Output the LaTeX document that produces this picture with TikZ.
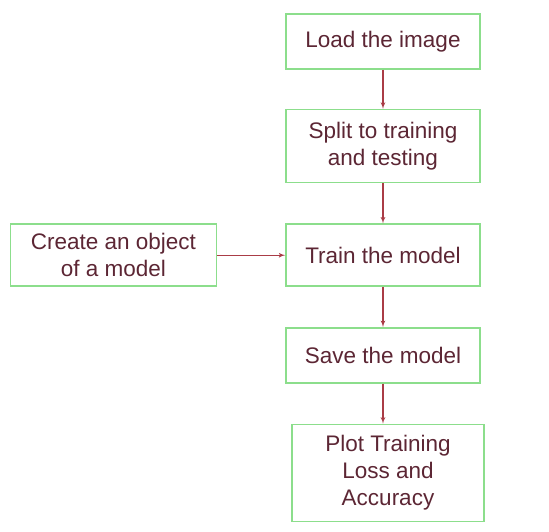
\documentclass[tikz,border=0pt]{standalone}
\usepackage{fontspec}
\setmainfont{Liberation Sans}
\usepackage{tikz}
\usetikzlibrary{arrows}
\usetikzlibrary{positioning}
\definecolor{boxgreen}{RGB}{140,222,140}
\definecolor{textred}{RGB}{92,38,52}
\definecolor{linkred}{RGB}{170,60,70}
\tikzstyle{int}=[draw=boxgreen, line width=1.6pt, text=textred, align=center,
  minimum width=194pt, minimum height=55pt, inner sep=2pt,
  font=\fontsize{22.5}{27}\selectfont]
\tikzstyle{link}=[->, color=linkred, line width=1.2pt]

\begin{document}
\begin{tikzpicture}[node distance=40pt,auto,>=latex']
    \useasboundingbox (0,0) rectangle (549pt,-531pt);
    \node [int] (load) at (383pt,-41.5pt) {Load the image};
    \node [int, minimum height=73pt] (split) [below=39pt of load] {Split to training\\and testing};
    \node [int, minimum height=62pt] (train) [below=of split] {Train the model};
    \node [int, minimum width=206pt, minimum height=62pt] (create) [left=68pt of train] {Create an object\\of a model};
    \node [int] (save) [below=of train] {Save the model};
    \node [int, minimum width=192pt, minimum height=97pt] (plot) [below=of save, xshift=5pt] {Plot Training\\Loss and\\Accuracy};
    \coordinate (plotin) at (save.south |- plot.north);
    \path[link] (load) edge (split);
    \path[link] (split) edge (train);
    \path[link] (create) edge (train);
    \path[link] (train) edge (save);
    \draw[link] (save.south) -- (plotin);
\end{tikzpicture}
\end{document}
